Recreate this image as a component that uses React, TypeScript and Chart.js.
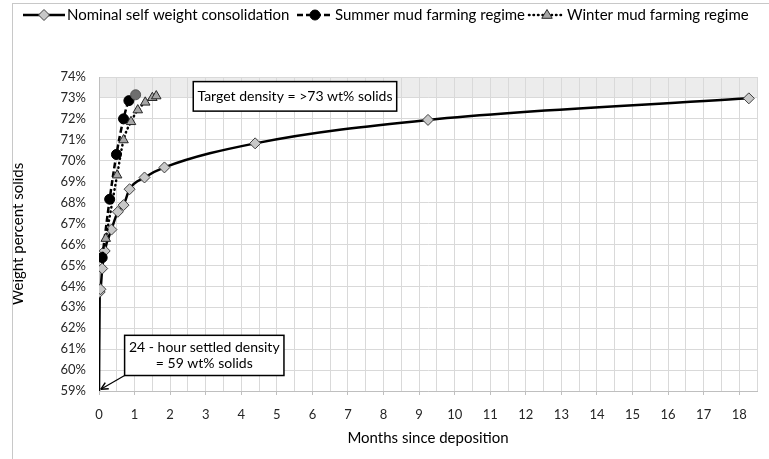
import React, { useEffect, useRef } from 'react';
import { Chart, registerables } from 'chart.js';

Chart.register(...registerables);

// ---- data ----
const seriesNames = [
  'Nominal self weight consolidation',
  'Summer mud farming regime',
  'Winter mud farming regime',
];
const nominalMonths = [0, 0.02, 0.04, 0.09, 0.16, 0.35, 0.53, 0.69, 0.86, 1.28, 1.84, 4.39, 9.25, 18.27];
const nominalSolids = [59, 63.73, 63.86, 64.85, 65.69, 66.71, 67.56, 67.88, 68.64, 69.2, 69.68, 70.83, 71.95, 72.98];
const summerMonths = [0.09, 0.3, 0.49, 0.69, 0.84, 1.03];
const summerSolids = [65.37, 68.16, 70.3, 72.0, 72.87, 73.15];
const winterMonths = [0.19, 0.51, 0.69, 0.9, 1.09, 1.3, 1.5, 1.61];
const winterSolids = [66.28, 69.31, 70.99, 71.86, 72.42, 72.79, 73.01, 73.09];
const xTickLabels = ['0', '1', '2', '3', '4', '5', '6', '7', '8', '9', '10', '11', '12', '13', '14', '15', '16', '17', '18'];
const targetBand = [73, 74];
const xAxisTitle = 'Months since deposition';
const yAxisTitle = 'Weight percent solids';
const targetText = ['Target density = >73 wt% solids'];
const settledText = ['24 - hour settled density', '= 59 wt% solids'];

// ---- annotation layout (in data units) ----
const targetBox = { x0: 2.65, x1: 8.37, y0: 72.37, y1: 73.78 };
const settledBox = { x0: 0.72, x1: 5.2, y0: 59.74, y1: 61.66 };
const arrowTip = { x: 0.05, y: 59.08 };

// legend layout (pixels): sample start, sample width
const legendLayout = [
  { x: 23, w: 42 },
  { x: 297, w: 36 },
  { x: 529, w: 36 },
];

const FONT = 'Lato, "Open Sans", sans-serif';
const GRID = '#d9d9d9';
const AXIS = '#bfbfbf';

const toXY = (xs: number[], ys: number[]) => xs.map((x, i) => ({ x, y: ys[i] }));

const styles = [
  { dash: [] as number[], cap: 'butt', point: 'rectRot', fill: '#c8c8c8', stroke: '#404040', r: 5.5 },
  { dash: [6, 3], cap: 'butt', point: 'circle', fill: '#000000', stroke: '#000000', r: 5 },
  { dash: [0.5, 4], cap: 'round', point: 'triangle', fill: '#a6a6a6', stroke: '#262626', r: 5.5 },
];

function drawMarker(ctx: CanvasRenderingContext2D, kind: string, x: number, y: number, r: number, fill: string, stroke: string) {
  ctx.save();
  ctx.setLineDash([]);
  ctx.beginPath();
  if (kind === 'rectRot') {
    ctx.moveTo(x, y - r); ctx.lineTo(x + r, y); ctx.lineTo(x, y + r); ctx.lineTo(x - r, y); ctx.closePath();
  } else if (kind === 'circle') {
    ctx.arc(x, y, r, 0, Math.PI * 2);
  } else {
    ctx.moveTo(x, y - r); ctx.lineTo(x + r * 0.95, y + r * 0.6); ctx.lineTo(x - r * 0.95, y + r * 0.6); ctx.closePath();
  }
  ctx.fillStyle = fill; ctx.fill();
  ctx.lineWidth = 1; ctx.strokeStyle = stroke; ctx.stroke();
  ctx.restore();
}

const bandPlugin = {
  id: 'targetBand',
  beforeDraw(chart: any) {
    const { ctx, chartArea, scales } = chart;
    const t = scales.y.getPixelForValue(targetBand[1]);
    const b = scales.y.getPixelForValue(targetBand[0]);
    ctx.save();
    ctx.fillStyle = '#ececec';
    ctx.fillRect(chartArea.left, t, chartArea.right - chartArea.left, b - t);
    ctx.restore();
  },
};

function drawBox(chart: any, box: any, lines: string[]) {
  const { ctx, scales } = chart;
  const l = scales.x.getPixelForValue(box.x0);
  const r = scales.x.getPixelForValue(box.x1);
  const t = scales.y.getPixelForValue(box.y1);
  const b = scales.y.getPixelForValue(box.y0);
  ctx.save();
  ctx.fillStyle = '#ffffff';
  ctx.fillRect(l, t, r - l, b - t);
  ctx.lineWidth = 1.5;
  ctx.strokeStyle = '#000000';
  ctx.strokeRect(l, t, r - l, b - t);
  ctx.fillStyle = '#000000';
  ctx.font = `14px ${FONT}`;
  ctx.textAlign = 'center';
  ctx.textBaseline = 'middle';
  const lh = 16;
  const cy = (t + b) / 2;
  lines.forEach((s, i) => {
    ctx.fillText(s, (l + r) / 2, cy + (i - (lines.length - 1) / 2) * lh);
  });
  ctx.restore();
}

const annotPlugin = {
  id: 'annotations',
  afterDraw(chart: any) {
    const { ctx, scales } = chart;
    drawBox(chart, targetBox, targetText);
    drawBox(chart, settledBox, settledText);
    // arrow
    const x0 = scales.x.getPixelForValue(settledBox.x0);
    const y0 = scales.y.getPixelForValue(settledBox.y0);
    const x1 = scales.x.getPixelForValue(arrowTip.x);
    const y1 = scales.y.getPixelForValue(arrowTip.y);
    ctx.save();
    ctx.strokeStyle = '#000';
    ctx.fillStyle = '#000';
    ctx.lineWidth = 1.2;
    ctx.beginPath(); ctx.moveTo(x0, y0); ctx.lineTo(x1, y1); ctx.stroke();
    const ang = Math.atan2(y1 - y0, x1 - x0);
    const ah = 8;
    ctx.beginPath();
    ctx.moveTo(x1, y1);
    ctx.lineTo(x1 - ah * Math.cos(ang - 0.45), y1 - ah * Math.sin(ang - 0.45));
    ctx.moveTo(x1, y1);
    ctx.lineTo(x1 - ah * Math.cos(ang + 0.45), y1 - ah * Math.sin(ang + 0.45));
    ctx.lineWidth = 1.5;
    ctx.stroke();
    ctx.restore();

    // legend
    ctx.save();
    ctx.font = `15px ${FONT}`;
    ctx.textBaseline = 'middle';
    ctx.textAlign = 'left';
    const y = 15;
    seriesNames.forEach((name, i) => {
      const s = styles[i];
      const { x, w } = legendLayout[i];
      ctx.save();
      ctx.strokeStyle = '#000';
      ctx.lineWidth = 2.5;
      ctx.lineCap = s.cap as CanvasLineCap;
      ctx.setLineDash(s.dash);
      ctx.beginPath(); ctx.moveTo(x, y); ctx.lineTo(x + w, y); ctx.stroke();
      ctx.restore();
      drawMarker(ctx, s.point, x + w / 2, y, s.r, s.fill, s.stroke);
      ctx.fillStyle = '#000';
      ctx.fillText(name, x + w + 2, y);
    });
    ctx.restore();
  },
};

export default function App() {
  const ref = useRef<HTMLCanvasElement | null>(null);
  useEffect(() => {
    document.body.style.margin = '0';
    const canvas = ref.current!;
    const mk = (i: number, data: any[], extra: any = {}) => ({
      label: seriesNames[i],
      data,
      borderColor: '#000000',
      borderWidth: 2.5,
      borderDash: styles[i].dash,
      borderCapStyle: styles[i].cap,
      pointStyle: styles[i].point,
      pointRadius: styles[i].r,
      pointBackgroundColor: styles[i].fill,
      pointBorderColor: styles[i].stroke,
      pointBorderWidth: 1,
      cubicInterpolationMode: 'monotone',
      ...extra,
    });
    const chart = new Chart(canvas, {
      type: 'line',
      data: {
        datasets: [
          mk(2, toXY(winterMonths, winterSolids)),
          mk(1, toXY(summerMonths, summerSolids), {
            pointBackgroundColor: summerMonths.map((_, i) => (i === summerMonths.length - 1 ? '#6e6e6e' : '#000000')),
            pointBorderColor: summerMonths.map((_, i) => (i === summerMonths.length - 1 ? '#555555' : '#000000')),
          }),
          mk(0, toXY(nominalMonths, nominalSolids), {
            pointRadius: nominalMonths.map((_, i) => (i === 0 ? 0 : styles[0].r)),
          }),
        ],
      },
      options: {
        animation: false,
        responsive: false,
        maintainAspectRatio: false,
        layout: { padding: { top: 77, right: 9, left: 0, bottom: 0 } },
        plugins: { legend: { display: false }, tooltip: { enabled: false } },
        scales: {
          x: {
            type: 'linear',
            min: 0,
            max: 18.5,
            afterFit: (s: any) => { s.height = 68; },
            border: { color: AXIS, width: 1 },
            grid: {
              color: GRID,
              lineWidth: 1,
              tickLength: 4,
              tickColor: (c: any) => (c.tick && Number.isInteger(c.tick.value) ? AXIS : 'rgba(0,0,0,0)'),
            },
            ticks: {
              stepSize: 0.5,
              autoSkip: false,
              maxRotation: 0,
              padding: 12,
              color: '#262626',
              font: { family: FONT, size: 13 },
              callback: (v: any) => (Number.isInteger(v) ? xTickLabels[v] : ''),
            },
            title: {
              display: true,
              text: xAxisTitle,
              color: '#000000',
              font: { family: FONT, size: 15 },
              padding: { top: 0, bottom: 12 },
            },
          },
          y: {
            type: 'linear',
            min: 59,
            max: 74,
            afterFit: (s: any) => { s.width = 99; },
            border: { color: AXIS, width: 1 },
            grid: { color: GRID, lineWidth: 1, drawTicks: false },
            ticks: {
              stepSize: 1,
              padding: 13,
              color: '#262626',
              font: { family: FONT, size: 13 },
              callback: (v: any) => `${v}%`,
            },
            title: {
              display: true,
              text: yAxisTitle,
              color: '#000000',
              font: { family: FONT, size: 15 },
              padding: { top: 9, bottom: 0 },
            },
          },
        },
      },
      plugins: [bandPlugin, annotPlugin],
    } as any);
    return () => chart.destroy();
  }, []);
  return (
    <div style={{ position: 'relative', width: 769, height: 459, overflow: 'hidden', background: '#fff' }}>
      <canvas ref={ref} width={769} height={459} style={{ width: 769, height: 459, display: 'block' }} />
      <div
        style={{
          position: 'absolute', left: 12, top: 3, width: 800, height: 500,
          borderLeft: '1px solid #c8c8c8', borderTop: '1px solid #c8c8c8', pointerEvents: 'none',
        }}
      />
    </div>
  );
}
